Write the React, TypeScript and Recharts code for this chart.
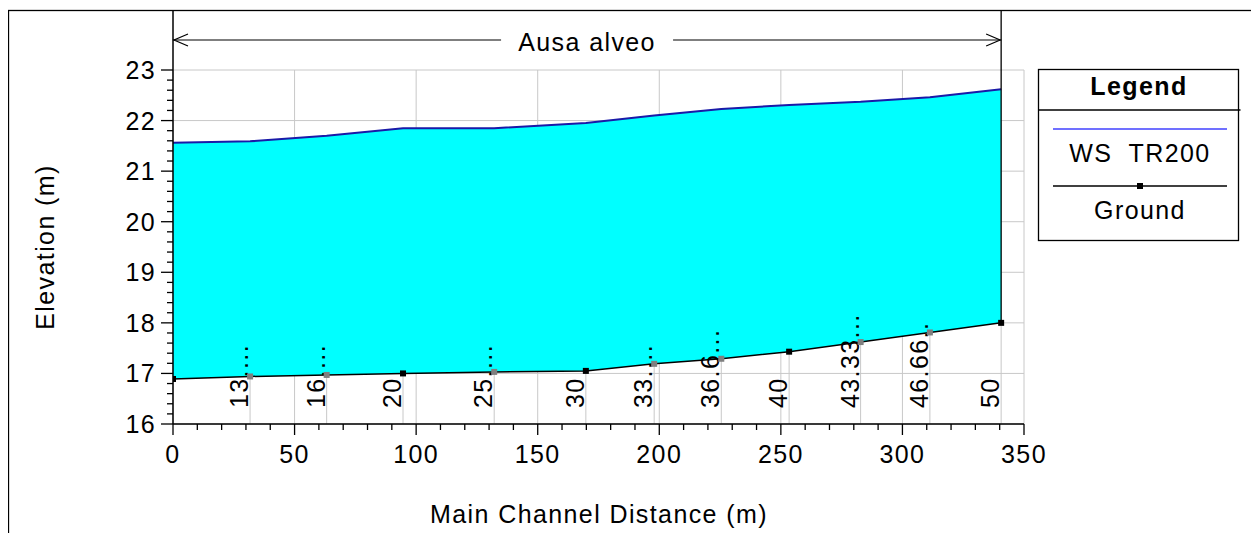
import React from 'react';
import { ComposedChart, Area, Line, XAxis, YAxis, CartesianGrid, ReferenceLine } from 'recharts';

// ---- data ----
const stationDist = [0, 31.7, 63.2, 94.6, 132.1, 169.8, 197.9, 225.5, 253.4, 282.8, 311.3, 340.6];
const groundElev = [16.89, 16.94, 16.97, 17.0, 17.03, 17.05, 17.19, 17.29, 17.43, 17.62, 17.81, 18.0];
const wsElev = [21.56, 21.59, 21.7, 21.85, 21.85, 21.95, 22.1, 22.23, 22.31, 22.37, 22.46, 22.62];
const stationLabels = ['', '13....', '16....', '20', '25....', '30', '33....', '36.6...', '40', '43.33...', '46.66..', '50'];
const interpolated = [false, true, true, false, true, false, true, true, false, true, true, false];

const xTicks = [0, 10, 20, 30, 40, 50, 60, 70, 80, 90, 100, 110, 120, 130, 140, 150, 160, 170, 180, 190, 200, 210, 220, 230, 240, 250, 260, 270, 280, 290, 300, 310, 320, 330, 340, 350];
const xMajor = [0, 50, 100, 150, 200, 250, 300, 350];
const yTicks = [16, 16.2, 16.4, 16.6, 16.8, 17, 17.2, 17.4, 17.6, 17.8, 18, 18.2, 18.4, 18.6, 18.8, 19, 19.2, 19.4, 19.6, 19.8, 20, 20.2, 20.4, 20.6, 20.8, 21, 21.2, 21.4, 21.6, 21.8, 22, 22.2, 22.4, 22.6, 22.8, 23];
const yMajor = [16, 17, 18, 19, 20, 21, 22, 23];

const reachName = 'Ausa alveo';
const xTitle = 'Main Channel Distance (m)';
const yTitle = 'Elevation (m)';
const legendTitle = 'Legend';
const legendWs = 'WS  TR200';
const legendGround = 'Ground';

const rows = stationDist.map((d, i) => ({
  dist: d,
  ground: groundElev[i],
  ws: wsElev[i],
  label: stationLabels[i],
  interp: interpolated[i],
}));

// ---- layout ----
const W = 1259;
const H = 533;
const PLOT_LEFT = 173;
const PLOT_RIGHT = 1024;
const PLOT_TOP = 70;
const PLOT_BOTTOM = 424;
const Y_AXIS_W = 60;
const X_AXIS_H = 30;
const X_MIN = 0, X_MAX = 350, Y_MIN = 16, Y_MAX = 23;

const FONT = '"Liberation Sans", Arial, sans-serif';
const FS = 25;
const LS = 1.4;

const xPx = (v: number) => PLOT_LEFT + ((v - X_MIN) / (X_MAX - X_MIN)) * (PLOT_RIGHT - PLOT_LEFT);
const yPx = (v: number) => PLOT_BOTTOM - ((v - Y_MIN) / (Y_MAX - Y_MIN)) * (PLOT_BOTTOM - PLOT_TOP);

const LABEL_START_Y = PLOT_BOTTOM - 16;

const XTick = (props: any) => {
  const { x, y, payload } = props;
  const v = payload.value;
  const major = xMajor.includes(v);
  return (
    <g>
      <line x1={x} y1={y} x2={x} y2={y + (major ? 11 : 6)} stroke="#000" strokeWidth={1.3} />
      {major && (
        <text x={x} y={y + 39} textAnchor="middle" fontFamily={FONT} fontSize={FS} letterSpacing={LS} fill="#000">
          {v}
        </text>
      )}
    </g>
  );
};

const YTick = (props: any) => {
  const { x, y, payload } = props;
  const v = payload.value;
  const major = yMajor.includes(v);
  return (
    <g>
      <line x1={x - (major ? 12 : 6)} y1={y} x2={x} y2={y} stroke="#000" strokeWidth={1.3} />
      {major && (
        <text x={x - 17} y={y + 9} textAnchor="end" fontFamily={FONT} fontSize={FS} letterSpacing={LS} fill="#000">
          {v}
        </text>
      )}
    </g>
  );
};

const StationDot = (props: any) => {
  const { cx, cy, payload, index } = props;
  if (cx == null || cy == null) return <g key={`d${index}`} />;
  const tx = cx - 2;
  return (
    <g key={`d${index}`}>
      {payload.label && (
        <text
          x={tx}
          y={LABEL_START_Y}
          transform={`rotate(-90 ${tx} ${LABEL_START_Y})`}
          textAnchor="start"
          fontFamily={FONT}
          fontSize={FS}
          letterSpacing={LS}
          fill="#000"
        >
          {payload.label}
        </text>
      )}
      <rect x={cx - 3} y={cy - 3} width={6} height={6} fill={payload.interp ? '#7f7f7f' : '#000'} />
    </g>
  );
};

export default function App() {
  const lastIdx = stationDist.length - 1;
  const reachL = xPx(stationDist[0]);
  const reachR = xPx(stationDist[lastIdx]);
  const reachMid = (reachL + reachR) / 2;
  const arrowY = 40;
  const gap = 86;
  return (
    <div style={{ position: 'relative', width: W, height: H, marginLeft: -8, marginTop: -8, overflow: 'hidden', background: '#fff', fontFamily: FONT }}>
      <ComposedChart
        width={W}
        height={H}
        data={rows}
        margin={{ top: PLOT_TOP, left: PLOT_LEFT - Y_AXIS_W, right: W - PLOT_RIGHT, bottom: H - PLOT_BOTTOM - X_AXIS_H }}
      >
        <CartesianGrid
          stroke="#c8c8c8"
          strokeWidth={1}
          verticalValues={xMajor}
          horizontalValues={yMajor}
          syncWithTicks
        />
        <XAxis
          type="number"
          dataKey="dist"
          domain={[X_MIN, X_MAX]}
          ticks={xTicks}
          interval={0}
          allowDataOverflow
          height={X_AXIS_H}
          tickSize={0}
          tickMargin={0}
          tickLine={false}
          axisLine={{ stroke: '#000', strokeWidth: 1.5 }}
          tick={(p: any) => <XTick {...p} />}
        />
        <YAxis
          type="number"
          domain={[Y_MIN, Y_MAX]}
          ticks={yTicks}
          interval={0}
          allowDataOverflow
          width={Y_AXIS_W}
          tickSize={0}
          tickMargin={0}
          tickLine={false}
          axisLine={{ stroke: '#000', strokeWidth: 1.5 }}
          tick={(p: any) => <YTick {...p} />}
        />
        {rows.slice(1).map((r, i) => (
          <ReferenceLine
            key={`st${i}`}
            segment={[{ x: r.dist, y: Y_MIN }, { x: r.dist, y: r.ground }]}
            stroke="#c8c8c8"
            strokeWidth={1}
          />
        ))}
        <Area
          type="linear"
          dataKey={(d: any) => [d.ground, d.ws]}
          fill="#00ffff"
          fillOpacity={1}
          stroke="none"
          isAnimationActive={false}
          activeDot={false}
        />
        <Line type="linear" dataKey="ws" stroke="#1a1aa8" strokeWidth={2} dot={false} activeDot={false} isAnimationActive={false} />
        <Line
          type="linear"
          dataKey="ground"
          stroke="#000"
          strokeWidth={1.5}
          dot={(p: any) => <StationDot {...p} key={`sd${p.index}`} />}
          activeDot={false}
          isAnimationActive={false}
        />
      </ComposedChart>

      <svg width={W} height={H} style={{ position: 'absolute', left: 0, top: 0, pointerEvents: 'none' }}>
        {/* frame */}
        <rect x={8.5} y={10.5} width={1244} height={560} fill="none" stroke="#000" strokeWidth={1.3} />
        {/* reach boundaries */}
        <line x1={reachL} y1={10.5} x2={reachL} y2={PLOT_TOP} stroke="#000" strokeWidth={1.5} />
        <line x1={reachR} y1={10.5} x2={reachR} y2={yPx(groundElev[lastIdx])} stroke="#000" strokeWidth={1.3} />
        {/* arrow */}
        <line x1={reachL} y1={arrowY} x2={reachMid - gap} y2={arrowY} stroke="#000" strokeWidth={1.2} />
        <line x1={reachMid + gap} y1={arrowY} x2={reachR} y2={arrowY} stroke="#000" strokeWidth={1.2} />
        <polyline points={`${reachL + 15},${arrowY - 6} ${reachL + 1},${arrowY} ${reachL + 15},${arrowY + 6}`} fill="none" stroke="#000" strokeWidth={1.2} />
        <polyline points={`${reachR - 15},${arrowY - 6} ${reachR - 1},${arrowY} ${reachR - 15},${arrowY + 6}`} fill="none" stroke="#000" strokeWidth={1.2} />
        <text x={reachMid} y={51} textAnchor="middle" fontFamily={FONT} fontSize={FS} letterSpacing={LS} fill="#000">
          {reachName}
        </text>
        {/* axis titles */}
        <text x={599} y={523} textAnchor="middle" fontFamily={FONT} fontSize={FS} letterSpacing={LS} fill="#000">
          {xTitle}
        </text>
        <text
          x={54}
          y={247}
          transform="rotate(-90 54 247)"
          textAnchor="middle"
          fontFamily={FONT}
          fontSize={FS}
          letterSpacing={LS}
          fill="#000"
        >
          {yTitle}
        </text>
        {/* legend */}
        <rect x={1038.5} y={69.5} width={200} height={171} fill="#fff" stroke="#000" strokeWidth={1.3} />
        <line x1={1038.5} y1={110} x2={1240.5} y2={110} stroke="#000" strokeWidth={1.3} />
        <text x={1139} y={95} textAnchor="middle" fontFamily={FONT} fontSize={FS} fontWeight="bold" letterSpacing={LS} fill="#000">
          {legendTitle}
        </text>
        <line x1={1053} y1={129} x2={1227} y2={129} stroke="#4040ff" strokeWidth={1.5} />
        <text x={1140} y={162} textAnchor="middle" fontFamily={FONT} fontSize={FS} letterSpacing={LS} fill="#000" style={{ whiteSpace: 'pre' }}>
          {legendWs}
        </text>
        <line x1={1053} y1={186} x2={1227} y2={186} stroke="#000" strokeWidth={1.3} />
        <rect x={1137} y={183} width={6} height={6} fill="#000" />
        <text x={1140} y={219} textAnchor="middle" fontFamily={FONT} fontSize={FS} letterSpacing={LS} fill="#000">
          {legendGround}
        </text>
      </svg>
    </div>
  );
}
